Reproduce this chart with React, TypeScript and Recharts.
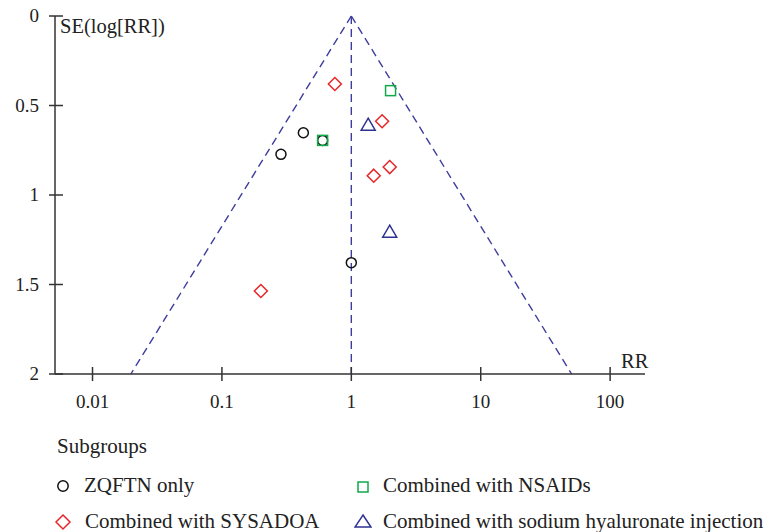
import React from "react";
import {
    ScatterChart,
    Scatter,
    XAxis,
    YAxis,
    ReferenceLine,
} from "recharts";

// subgroup points: relative risk and standard error of log(RR)
const zqftnRR = [0.426, 0.286, 1.0, 0.6];
const zqftnSE = [0.652, 0.773, 1.378, 0.695];
const sysadoaRR = [0.746, 1.73, 1.98, 1.49, 0.2];
const sysadoaSE = [0.38, 0.588, 0.844, 0.892, 1.536];
const nsaidsRR = [2.01, 0.6];
const nsaidsSE = [0.417, 0.695];
const sodiumRR = [1.35, 1.98];
const sodiumSE = [0.61, 1.208];

// funnel (pooled RR and 95% limits at SE = 2)
const pooledRR = 1;
const funnelLeftRR = [1, 0.0198];
const funnelRightRR = [1, 50.4];
const funnelSE = [0, 2];

const xTicks = [0.01, 0.1, 1, 10, 100];
const xTickLabels = ["0.01", "0.1", "1", "10", "100"];
const yTicks = [0, 0.5, 1, 1.5, 2];
const yTickLabels = ["0", "0.5", "1", "1.5", "2"];

const toPoints = (rr: number[], se: number[]) => rr.map((v, i) => ({ rr: v, se: se[i] }));

const FONT = "'Liberation Serif', 'DejaVu Serif', serif";
const AXIS = "#333333";
const FUNNEL = "#3d3d9c";
const RED = "#e8262a";
const GREEN = "#12a84a";
const NAVY = "#2e3192";

// plot area in chart coords
const PLOT_LEFT = 47;
const PLOT_BOTTOM = 374;

const CircleMark = ({ cx, cy, color = "#111" }: any) => (
    <circle cx={cx} cy={cy} r={5} fill="none" stroke={color} strokeWidth={1.5} />
);
const SquareMark = ({ cx, cy }: any) => (
    <rect x={cx - 5} y={cy - 5} width={10} height={10} fill="none" stroke={GREEN} strokeWidth={1.5} />
);
const DiamondMark = ({ cx, cy }: any) => (
    <polygon
        points={`${cx},${cy - 6.5} ${cx + 6.5},${cy} ${cx},${cy + 6.5} ${cx - 6.5},${cy}`}
        fill="none"
        stroke={RED}
        strokeWidth={1.5}
    />
);
const TriangleMark = ({ cx, cy }: any) => (
    <polygon
        points={`${cx},${cy - 7} ${cx + 7},${cy + 5} ${cx - 7},${cy + 5}`}
        fill="none"
        stroke={NAVY}
        strokeWidth={1.5}
    />
);

const YTick = ({ y, payload }: any) => {
    const i = yTicks.indexOf(payload.value);
    return (
        <g>
            <line x1={PLOT_LEFT - 6} x2={PLOT_LEFT + 8} y1={y} y2={y} stroke={AXIS} strokeWidth={1.5} />
            <text x={PLOT_LEFT - 16} y={y + 6} textAnchor="end" fontFamily={FONT} fontSize={19} fill="#222">
                {yTickLabels[i]}
            </text>
        </g>
    );
};

const XTick = ({ x, payload }: any) => {
    const i = xTicks.indexOf(payload.value);
    return (
        <g>
            <line x1={x} x2={x} y1={PLOT_BOTTOM - 7} y2={PLOT_BOTTOM + 7} stroke={AXIS} strokeWidth={1.5} />
            <text x={x} y={PLOT_BOTTOM + 34} textAnchor="middle" fontFamily={FONT} fontSize={19} fill="#222">
                {xTickLabels[i]}
            </text>
        </g>
    );
};

const legendText: React.CSSProperties = {
    position: "absolute",
    fontFamily: FONT,
    fontSize: 21,
    color: "#222",
    whiteSpace: "nowrap",
    lineHeight: "24px",
};

const Icon = ({ left, top, children }: any) => (
    <svg style={{ position: "absolute", left, top }} width={18} height={18} viewBox="-9 -9 18 18">
        {children}
    </svg>
);

export default function App() {
    return (
        <div style={{ position: "relative", width: 756, height: 532, marginTop: -8 }}>
            <ScatterChart width={756} height={438} margin={{ top: 16, right: 119, left: 7, bottom: 24 }}>
                <XAxis
                    type="number"
                    dataKey="rr"
                    scale="log"
                    domain={[0.00513, 186]}
                    allowDataOverflow
                    ticks={xTicks}
                    tick={<XTick />}
                    tickLine={false}
                    axisLine={{ stroke: AXIS, strokeWidth: 1.5 }}
                    height={40}
                    interval={0}
                />
                <YAxis
                    type="number"
                    dataKey="se"
                    domain={[0, 2]}
                    reversed
                    ticks={yTicks}
                    tick={<YTick />}
                    tickLine={false}
                    axisLine={{ stroke: AXIS, strokeWidth: 1.5 }}
                    width={40}
                    interval={0}
                />
                <ReferenceLine
                    segment={[{ x: funnelLeftRR[0], y: funnelSE[0] }, { x: funnelLeftRR[1], y: funnelSE[1] }]}
                    stroke={FUNNEL}
                    strokeWidth={1.4}
                    strokeDasharray="8 5"
                />
                <ReferenceLine
                    segment={[{ x: funnelRightRR[0], y: funnelSE[0] }, { x: funnelRightRR[1], y: funnelSE[1] }]}
                    stroke={FUNNEL}
                    strokeWidth={1.4}
                    strokeDasharray="8 5"
                />
                <ReferenceLine
                    segment={[{ x: pooledRR, y: funnelSE[0] }, { x: pooledRR, y: funnelSE[1] }]}
                    stroke={FUNNEL}
                    strokeWidth={1.4}
                    strokeDasharray="8 5"
                />
                <Scatter data={toPoints(zqftnRR, zqftnSE)} shape={<CircleMark />} isAnimationActive={false} />
                <Scatter data={toPoints(sysadoaRR, sysadoaSE)} shape={<DiamondMark />} isAnimationActive={false} />
                <Scatter data={toPoints(nsaidsRR, nsaidsSE)} shape={<SquareMark />} isAnimationActive={false} />
                <Scatter data={toPoints(sodiumRR, sodiumSE)} shape={<TriangleMark />} isAnimationActive={false} />
                <text x={52} y={33} fontFamily={FONT} fontSize={20.5} fill="#222">SE(log[RR])</text>
                <text x={613} y={368} fontFamily={FONT} fontSize={20.5} fill="#222">RR</text>
            </ScatterChart>

            {/* legend */}
            <div style={{ ...legendText, left: 49, top: 434 }}>Subgroups</div>
            <Icon left={45.7} top={477}>
                <circle cx={0} cy={0} r={5.2} fill="none" stroke="#111" strokeWidth={1.5} />
            </Icon>
            <div style={{ ...legendText, left: 76, top: 473 }}>ZQFTN only</div>
            <Icon left={346} top={477.5}>
                <rect x={-5} y={-5} width={10} height={10} fill="none" stroke={GREEN} strokeWidth={1.5} />
            </Icon>
            <div style={{ ...legendText, left: 375, top: 473 }}>Combined with NSAIDs</div>
            <Icon left={46.3} top={512.7}>
                <polygon points="0,-7 7,0 0,7 -7,0" fill="none" stroke={RED} strokeWidth={1.5} />
            </Icon>
            <div style={{ ...legendText, left: 77, top: 509 }}>Combined with SYSADOA</div>
            <Icon left={346} top={511.7}>
                <polygon points="0,-6 8,6 -8,6" fill="none" stroke={NAVY} strokeWidth={1.5} />
            </Icon>
            <div style={{ ...legendText, left: 375, top: 509 }}>Combined with sodium hyaluronate injection</div>
        </div>
    );
}
